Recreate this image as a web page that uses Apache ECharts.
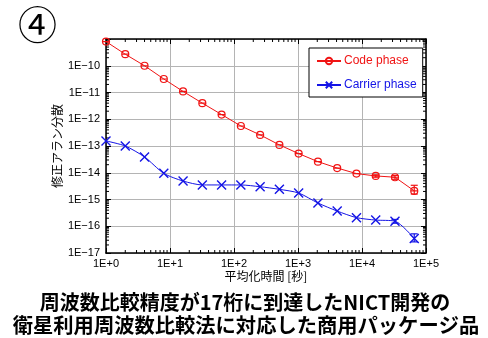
<!DOCTYPE html>
<html><head><meta charset="utf-8">
<script src="https://cdn.jsdelivr.net/npm/echarts@6/dist/echarts.min.js"></script>
<style>html,body{margin:0;padding:0;background:#fff}#c{width:488px;height:338px}</style>
</head><body><div id="c"></div>
<script>
const tau = [1,2,4,8,16,32,64,128,256,512,1024,2048,4096,8192,16384,32768,65536];
const codePhase = [8.0e-10,2.7e-10,1.0e-10,3.2e-11,1.1e-11,4.0e-12,1.5e-12,5.6e-13,2.6e-13,1.1e-13,5.2e-14,2.6e-14,1.5e-14,9.3e-15,7.6e-15,6.8e-15,2.1e-15];
const carrierPhase = [1.55e-13,1.0e-13,3.9e-14,9.5e-15,4.9e-15,3.5e-15,3.5e-15,3.5e-15,3.0e-15,2.4e-15,1.75e-15,7.4e-16,3.7e-16,2.1e-16,1.7e-16,1.55e-16,3.5e-17];
const codeErr = [[16384,6.8e-15,8.4e-15],[32768,5.7e-15,7.9e-15],[65536,1.6e-15,3.4e-15]];
const carrierErr = [[32768,1.3e-16,1.8e-16],[65536,2.6e-17,5.2e-17]];
const xTickLabels = ['1E+0','1E+1','1E+2','1E+3','1E+4','1E+5'];
const yTickLabels = ['1E\u221217','1E\u221216','1E\u221215','1E\u221214','1E\u221213','1E\u221212','1E\u221211','1E\u221210',''];
const seriesNames = ['Code phase','Carrier phase'];
const xName = '平均化時間 [秒]';
const yName = '修正アラン分散';
const caption1 = '周波数比較精度が17桁に到達したNICT開発の';
const caption2 = '衛星利用周波数比較法に対応した商用パッケージ品';
const badge = '④';

const X_MIN = 1, X_MAX = 1e5, Y_MIN = 1e-17, Y_MAX = 1e-9;
const RED = '#f01414', BLUE = '#1414e6';

const minorX = [];
for (let e = 0; e < 5; e++) for (let m = 2; m <= 9; m++) minorX.push([m * Math.pow(10, e), Y_MIN]);
const minorY = [];
for (let e = -17; e < -9; e++) for (let m = 2; m <= 9; m++) minorY.push([X_MIN, m * Math.pow(10, e)]);

const chart = echarts.init(document.getElementById('c'), null, {renderer: 'canvas'});
const latin = '"Liberation Sans", Arial, sans-serif';
const jp = '"Noto Sans CJK JP", sans-serif';

function expOf(v){ return Math.round(Math.log10(v)); }

function errRender(color){
  return function(params, api){
    const x = api.value(0);
    const lo = api.coord([x, api.value(1)]);
    const hi = api.coord([x, api.value(2)]);
    const w = 3.5;
    const st = {stroke: color, lineWidth: 1.2};
    return {type:'group', children:[
      {type:'line', shape:{x1:lo[0],y1:lo[1],x2:hi[0],y2:hi[1]}, style:st},
      {type:'line', shape:{x1:lo[0]-w,y1:lo[1],x2:lo[0]+w,y2:lo[1]}, style:st},
      {type:'line', shape:{x1:hi[0]-w,y1:hi[1],x2:hi[0]+w,y2:hi[1]}, style:st}
    ]};
  };
}

const option = {
  animation: false,
  backgroundColor: '#fff',
  grid: {left: 106, top: 39, right: 62, bottom: 85},
  legend: {
    orient: 'vertical', left: 309, top: 48,
    padding: [7, 6, 6, 7], itemGap: 12, itemWidth: 24, itemHeight: 8,
    borderColor: '#000', borderWidth: 1, backgroundColor: '#fff',
    data: [
      {name: seriesNames[0], textStyle: {color: RED}},
      {name: seriesNames[1], textStyle: {color: BLUE}}
    ],
    textStyle: {fontFamily: latin, fontSize: 12, padding: [0,0,0,-2]}
  },
  xAxis: [{
    type: 'log', logBase: 10, min: X_MIN, max: X_MAX,
    name: xName, nameLocation: 'middle', nameGap: 17, nameMoveOverlap: false,
    nameTextStyle: {fontFamily: jp, fontSize: 12, color: '#000'},
    axisLine: {show: true, lineStyle: {color: '#000', width: 1.5}},
    axisTick: {show: true, inside: true, length: 5, lineStyle: {color: '#000'}},
    axisLabel: {fontFamily: latin, fontSize: 11, color: '#000', margin: 5,
      formatter: v => xTickLabels[expOf(v)] || ''},
    splitLine: {show: true, lineStyle: {color: '#b4b4b4', width: 1}}
  },{
    type: 'log', logBase: 10, min: X_MIN, max: X_MAX, position: 'top',
    axisLine: {show: true, onZero: false, lineStyle: {color: '#000', width: 1.5}},
    axisTick: {show: true, inside: true, length: 5, lineStyle: {color: '#000'}},
    axisLabel: {show: false}, splitLine: {show: false}
  }],
  yAxis: [{
    type: 'log', logBase: 10, min: Y_MIN, max: Y_MAX,
    name: yName, nameLocation: 'middle', nameGap: 43, nameMoveOverlap: false,
    nameTextStyle: {fontFamily: jp, fontSize: 12, color: '#000'},
    axisLine: {show: true, lineStyle: {color: '#000', width: 1.5}},
    axisTick: {show: true, inside: true, length: 5, lineStyle: {color: '#000'}},
    axisLabel: {fontFamily: latin, fontSize: 11, color: '#000', margin: 6,
      formatter: v => yTickLabels[expOf(v) + 17] || ''},
    splitLine: {show: true, lineStyle: {color: '#b4b4b4', width: 1}}
  },{
    type: 'log', logBase: 10, min: Y_MIN, max: Y_MAX, position: 'right',
    axisLine: {show: true, onZero: false, lineStyle: {color: '#000', width: 1.5}},
    axisTick: {show: true, inside: true, length: 5, lineStyle: {color: '#000'}},
    axisLabel: {show: false}, splitLine: {show: false}
  }],
  graphic: [
    {type: 'text', left: 18, top: 5, style: {text: badge, font: '39px "Noto Sans CJK JP"', fill: '#000'}},
    {type: 'text', x: 245, y: 302, style: {text: caption1, font: 'bold 20px "Noto Sans CJK JP"', fill: '#000', textAlign: 'center', textVerticalAlign: 'middle'}},
    {type: 'text', x: 246, y: 325, style: {text: caption2, font: 'bold 20.3px "Noto Sans CJK JP"', fill: '#000', textAlign: 'center', textVerticalAlign: 'middle'}}
  ],
  series: [
    {
      type: 'custom', silent: true, data: minorX, encode: {x: 0, y: 1}, z: 5,
      renderItem: function(params, api){
        const v = api.value(0);
        const b = api.coord([v, Y_MIN]);
        const t = api.coord([v, Y_MAX]);
        const st = {stroke: '#000', lineWidth: 1};
        return {type: 'group', children: [
          {type: 'line', shape: {x1: b[0], y1: b[1], x2: b[0], y2: b[1] - 3}, style: st},
          {type: 'line', shape: {x1: t[0], y1: t[1], x2: t[0], y2: t[1] + 3}, style: st}
        ]};
      }
    },
    {
      type: 'custom', silent: true, data: minorY, encode: {x: 0, y: 1}, z: 5,
      renderItem: function(params, api){
        const v = api.value(1);
        const l = api.coord([X_MIN, v]);
        const r = api.coord([X_MAX, v]);
        const st = {stroke: '#000', lineWidth: 1};
        return {type: 'group', children: [
          {type: 'line', shape: {x1: l[0], y1: l[1], x2: l[0] + 3, y2: l[1]}, style: st},
          {type: 'line', shape: {x1: r[0], y1: r[1], x2: r[0] - 3, y2: r[1]}, style: st}
        ]};
      }
    },
    {
      name: seriesNames[0], type: 'line',
      data: tau.map((t, i) => [t, codePhase[i]]),
      symbol: 'path://M0,5A5,5 0 1,1 10,5A5,5 0 1,1 0,5ZM0,5L10,5', symbolSize: 7,
      lineStyle: {color: RED, width: 1},
      itemStyle: {color: 'rgba(0,0,0,0)', borderColor: RED, borderWidth: 1.2},
      z: 10
    },
    {
      name: seriesNames[1], type: 'line',
      data: tau.map((t, i) => [t, carrierPhase[i]]),
      smooth: 0.25,
      symbol: 'path://M0,0L10,10M10,0L0,10', symbolSize: 9,
      lineStyle: {color: BLUE, width: 1},
      itemStyle: {color: 'rgba(0,0,0,0)', borderColor: BLUE, borderWidth: 1.4},
      z: 10
    },
    {type: 'custom', silent: true, data: codeErr, encode: {x: 0, y: [1, 2]}, renderItem: errRender(RED), z: 11},
    {type: 'custom', silent: true, data: carrierErr, encode: {x: 0, y: [1, 2]}, renderItem: errRender(BLUE), z: 11}
  ]
};
chart.setOption(option);
</script></body></html>
